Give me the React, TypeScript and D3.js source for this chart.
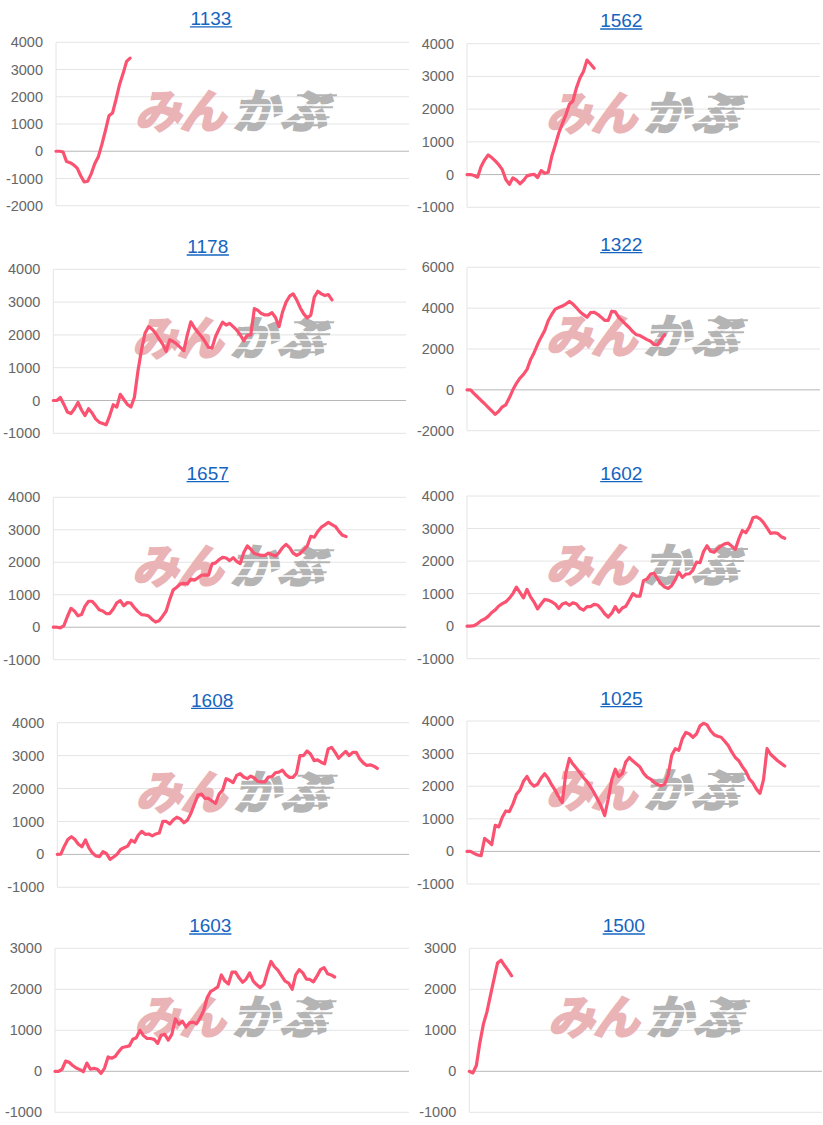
import React from 'react';
import * as d3 from 'd3';

// ---- data ----
const titles = ['1133', '1562', '1178', '1322', '1657', '1602', '1608', '1025', '1603', '1500'];

const s1133 = [0, 0, -30, -380, -420, -500, -620, -900, -1130, -1100, -820, -450, -200, 250, 760, 1300, 1400, 1900, 2450, 2850, 3300, 3420];
const s1562 = [0, 0, -30, -80, 250, 450, 600, 520, 420, 300, 150, -150, -300, -100, -170, -280, -180, -40, -10, 10, -90, 120, 40, 70, 550, 900, 1270, 1550, 1820, 2150, 2250, 2650, 2950, 3150, 3500, 3380, 3250];
const s1178 = [0, 0, 90, -120, -350, -400, -250, -60, -290, -460, -250, -380, -560, -660, -700, -740, -460, -130, -200, 190, 30, -120, -200, 100, 900, 1540, 2050, 2250, 2180, 2050, 1880, 1720, 1500, 1850, 1800, 1720, 1620, 1520, 2000, 2400, 2220, 2080, 1950, 1800, 1620, 1600, 1950, 2180, 2390, 2300, 2350, 2250, 2150, 2000, 1820, 1990, 2000, 2800, 2750, 2650, 2610, 2610, 2680, 2530, 2250, 2700, 3000, 3180, 3250, 3070, 2830, 2640, 2520, 2600, 3150, 3330, 3250, 3200, 3230, 3070];
const s1322 = [0, 0, -180, -350, -520, -680, -860, -1030, -1200, -1050, -830, -730, -390, 0, 320, 570, 760, 1000, 1480, 1820, 2230, 2580, 2900, 3380, 3690, 3950, 4030, 4100, 4200, 4330, 4200, 4020, 3820, 3680, 3560, 3780, 3800, 3700, 3560, 3400, 3400, 3850, 3820, 3550, 3380, 3200, 3040, 2840, 2700, 2660, 2560, 2460, 2380, 2220, 2200, 2480, 2700];
const s1657 = [0, 0, -20, 50, 330, 580, 500, 350, 390, 650, 800, 800, 680, 540, 500, 420, 420, 560, 750, 820, 660, 760, 740, 600, 480, 390, 375, 350, 240, 160, 200, 340, 500, 850, 1150, 1230, 1330, 1350, 1330, 1480, 1450, 1520, 1600, 1610, 1600, 1950, 1980, 2080, 2150, 2130, 2050, 2140, 2030, 1960, 2300, 2500, 2400, 2270, 2240, 2210, 2210, 2280, 2230, 2190, 2300, 2450, 2550, 2450, 2280, 2210, 2270, 2380, 2500, 2800, 2770, 2950, 3080, 3150, 3230, 3160, 3100, 2950, 2830, 2790];
const s1602 = [0, 0, 15, 80, 170, 220, 300, 420, 500, 620, 690, 750, 860, 1000, 1200, 1040, 870, 1130, 900, 740, 530, 680, 820, 800, 750, 680, 540, 680, 720, 640, 720, 680, 550, 490, 600, 600, 670, 650, 530, 380, 280, 400, 600, 430, 560, 610, 800, 1000, 920, 920, 1400, 1450, 1600, 1620, 1450, 1300, 1200, 1160, 1250, 1430, 1660, 1500, 1600, 1610, 1720, 1970, 1950, 2290, 2470, 2300, 2270, 2380, 2470, 2530, 2550, 2460, 2360, 2680, 2940, 2870, 3050, 3330, 3360, 3300, 3180, 3020, 2850, 2870, 2850, 2750, 2700];
const s1608 = [0, 10, 250, 450, 540, 450, 310, 230, 440, 200, 40, -50, -70, 80, 20, -150, -80, 5, 150, 200, 250, 430, 370, 580, 700, 610, 620, 560, 620, 650, 1000, 1000, 920, 1050, 1130, 1080, 960, 1040, 1250, 1530, 1800, 1830, 1700, 1700, 1620, 1550, 1830, 1950, 2300, 2250, 2180, 2400, 2450, 2350, 2300, 2380, 2320, 2220, 2200, 2200, 2350, 2360, 2480, 2500, 2560, 2420, 2340, 2340, 2460, 3000, 3000, 3140, 3050, 2850, 2870, 2800, 2750, 3200, 3250, 3100, 2920, 3030, 3130, 3000, 3100, 3100, 2900, 2780, 2700, 2720, 2680, 2610];
const s1025 = [0, 0, -60, -110, -130, 400, 310, 210, 800, 750, 1050, 1240, 1220, 1450, 1750, 1880, 2150, 2300, 2100, 2000, 2060, 2250, 2380, 2240, 2040, 1870, 1660, 1500, 2400, 2850, 2680, 2550, 2410, 2260, 2140, 1980, 1800, 1600, 1380, 1100, 1600, 2200, 2520, 2300, 2390, 2750, 2880, 2770, 2680, 2590, 2400, 2280, 2220, 2120, 2050, 2010, 2060, 2350, 2950, 3150, 3100, 3460, 3650, 3600, 3500, 3600, 3850, 3930, 3880, 3700, 3580, 3530, 3500, 3380, 3250, 3050, 2880, 2780, 2600, 2450, 2220, 2100, 1910, 1780, 2200, 3150, 2980, 2880, 2780, 2700, 2620];
const s1603 = [0, 0, 50, 250, 220, 140, 80, 40, -10, 200, 50, 70, 50, -50, 80, 350, 320, 360, 480, 580, 600, 620, 780, 820, 1000, 870, 800, 800, 780, 680, 880, 900, 760, 900, 1280, 1150, 1220, 1080, 1180, 1200, 1160, 1300, 1480, 1800, 1950, 2000, 2060, 2350, 2200, 2130, 2420, 2420, 2280, 2170, 2250, 2400, 2200, 2110, 2040, 2120, 2420, 2680, 2550, 2460, 2330, 2200, 2150, 2000, 2350, 2480, 2400, 2250, 2240, 2180, 2320, 2480, 2530, 2380, 2350, 2300];
const s1500 = [0, -40, 140, 700, 1150, 1450, 1850, 2250, 2640, 2710, 2580, 2460, 2330];

const seriesList = [s1133, s1562, s1178, s1322, s1657, s1602, s1608, s1025, s1603, s1500];

const yMins = [-2000, -1000, -1000, -2000, -1000, -1000, -1000, -1000, -1000, -1000];
const yMaxs = [4000, 4000, 4000, 6000, 4000, 4000, 4000, 4000, 3000, 3000];
const ySteps = [1000, 1000, 1000, 2000, 1000, 1000, 1000, 1000, 1000, 1000];

const xSlots = 100;

// ---- layout (positions only) ----
const layout = [
  { left: 56, right: 409, top: 42.3, bottom: 205.7, titleY: 18.5, titleX: 211 },
  { left: 467, right: 820, top: 43.7, bottom: 207.3, titleY: 20.7, titleX: 621.3 },
  { left: 53.3, right: 406, top: 269.3, bottom: 433.3, titleY: 246.7, titleX: 207.8 },
  { left: 467, right: 820, top: 267.3, bottom: 430.7, titleY: 244.3, titleX: 621.3 },
  { left: 53.3, right: 406, top: 497.3, bottom: 659.7, titleY: 473.3, titleX: 207.7 },
  { left: 467, right: 820, top: 496, bottom: 658.7, titleY: 473.3, titleX: 621.3 },
  { left: 57.3, right: 409, top: 722.7, bottom: 887.3, titleY: 700, titleX: 212.2 },
  { left: 467, right: 820, top: 721, bottom: 884, titleY: 698.3, titleX: 621.5 },
  { left: 55, right: 409, top: 948.3, bottom: 1112.3, titleY: 925.7, titleX: 210.3 },
  { left: 469.3, right: 822, top: 948.3, bottom: 1112.3, titleY: 925.7, titleX: 623.8 },
];

const LINE = 'rgb(250, 82, 112)';
const LINK = '#1565c0';
const FONT = '"Liberation Sans", Arial, Helvetica, sans-serif';
const JP = '"Noto Sans CJK JP", sans-serif';

function Watermark({ cx, cy }: { cx: number; cy: number }) {
  return (
    <g transform={`translate(${cx},${cy})`} style={{ pointerEvents: 'none' }}>
      <g transform="skewX(-14)">
        <text x={-4} y={15} textAnchor="end" fontFamily={JP} fontWeight={700}
          fontSize={46} fill="#eab3b5" stroke="#eab3b5" strokeWidth={2.5} letterSpacing={-1}>みん</text>
        <text x={4} y={15} textAnchor="start" fontFamily={JP} fontWeight={700}
          fontSize={46} fill="#b4b4b4" stroke="#b4b4b4" strokeWidth={2.5} letterSpacing={2}>かぶ</text>
        {[-9, -1, 7].map((dy, i) => (
          <rect key={i} x={2} y={dy} width={104} height={1.5} fill="#ffffff" />
        ))}
        {[-19, -7, 3, 11].map((dy, i) => (
          <rect key={'s' + i} x={60 + i * 3} y={dy} width={40 - i * 4} height={2} fill="#b4b4b4" />
        ))}
      </g>
    </g>
  );
}

function Panel({ idx }: { idx: number }) {
  const L = layout[idx];
  const data = seriesList[idx];
  const x = d3.scaleLinear().domain([0, xSlots]).range([L.left, L.right]);
  const y = d3.scaleLinear().domain([yMins[idx], yMaxs[idx]]).range([L.bottom, L.top]);
  const ticks = d3.range(yMins[idx], yMaxs[idx] + 1, ySteps[idx]);
  const line = d3.line<number>().x((_, i) => x(i)).y((d) => y(d)).curve(d3.curveLinear);
  const title = titles[idx];
  const titleW = title.length * 0.556 * 19;
  return (
    <g>
      <text x={L.titleX} y={L.titleY + 6.5} textAnchor="middle" fontFamily={FONT} fontSize={19} fill={LINK}>{title}</text>
      <line x1={L.titleX - titleW / 2} x2={L.titleX + titleW / 2} y1={L.titleY + 8.3} y2={L.titleY + 8.3} stroke={LINK} strokeWidth={1.3} />
      {ticks.map((t) => (
        <g key={t}>
          <line x1={L.left} x2={L.right} y1={y(t)} y2={y(t)}
            stroke={t === 0 ? '#b8b8b8' : '#e4e4e4'} strokeWidth={1} />
          <text x={L.left - 13} y={y(t)} dy="0.35em" textAnchor="end" fontFamily={FONT} fontSize={14.5} fill="#666">{t}</text>
        </g>
      ))}
      <line x1={L.left} x2={L.left} y1={L.top} y2={L.bottom} stroke="#e4e4e4" strokeWidth={1} />
      <Watermark cx={(L.left + L.right) / 2} cy={L.top + 71} />
      <path d={line(data) || ''} fill="none" stroke={LINE} strokeWidth={3.2} strokeLinejoin="round" strokeLinecap="round" />
    </g>
  );
}

export default function App() {
  return (
    <svg width={823} height={1125} style={{ position: 'absolute', left: 0, top: 0, background: '#fff' }}>
      <rect width={823} height={1125} fill="#fff" />
      {titles.map((_, i) => <Panel key={i} idx={i} />)}
    </svg>
  );
}
